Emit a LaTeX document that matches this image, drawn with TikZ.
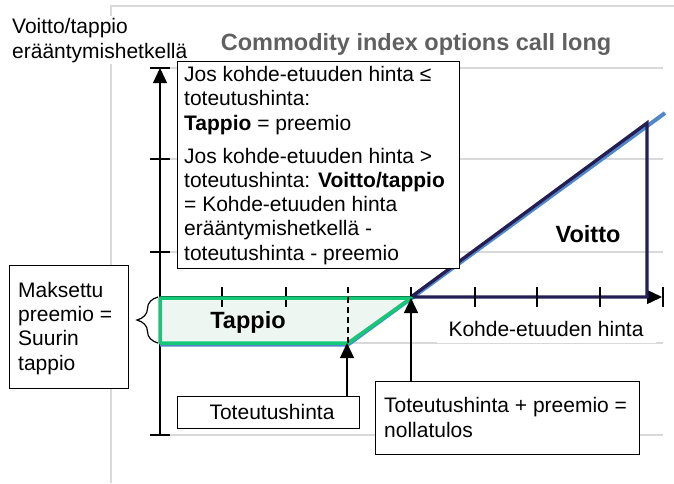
\documentclass[tikz,border=0pt]{standalone}
\usepackage{fontspec}
\setmainfont{Liberation Sans}
\usetikzlibrary{arrows.meta,decorations.pathreplacing,calc}
\definecolor{gridgray}{HTML}{D9D9D9}
\definecolor{navyc}{HTML}{231E55}
\definecolor{paygreen}{HTML}{14C878}
\definecolor{mintc}{HTML}{EEF6F2}
\definecolor{payblue}{HTML}{5087C8}
\definecolor{titlegray}{HTML}{606060}
\begin{document}
\begin{tikzpicture}[x=1pt,y=-1pt,
  body/.style={font=\fontsize{21}{24.2}\selectfont},
  frame/.style={draw=black, line width=1.3pt, fill=white, inner sep=0pt},
  gridl/.style={gridgray, line width=1.5pt},
  axisl/.style={black, line width=1.4pt},
  tri/.style={-{Triangle[width=14pt,length=15pt]}},
  tickl/.style={black, line width=1.6pt},
  biglbl/.style={font=\fontsize{23.5}{27}\selectfont\bfseries},
]
\useasboundingbox (0,0) rectangle (674,483);
% plot frame and grid
\foreach \y in {68,159,252,343,435} \draw[gridl] (160,\y) -- (663,\y);
\draw[gridl] (674,6) -- (111,6) -- (111,483);
% axes
\draw[axisl, tri] (160,435) -- (160,68);
\draw[axisl, tri] (160,297) -- (662,297);
\foreach \y in {68,159,252,435} \draw[tickl] (150,\y) -- (170,\y);
% payoff (blue)
\draw[payblue, line width=4pt] (160,344.5) -- (348,344.5) -- (665,113);
% loss area fill
\fill[mintc] (160,298) -- (411,298) -- (348,343) -- (160,343) -- cycle;
% profit triangle (navy)
\draw[navyc, line width=3.3pt] (411,297) -- (647,123) -- (647,297) -- (411,297);
% x ticks
\foreach \x in {222,286,411,475,537,600,663} \draw[tickl] (\x,287) -- (\x,307);
% loss area outline
\draw[paygreen, line width=3.5pt, line join=round] (160,298) -- (411,298) -- (348,343) -- (160,343) -- cycle;
\draw[black, line width=1.6pt, dash pattern=on 6pt off 4pt] (348,287) -- (348,343);
% brace
\draw[decorate, decoration={brace, amplitude=21pt}, line width=1.2pt] (158,343) -- (158,297);
% coordinates
\coordinate (K) at (347,343);
\coordinate (BE) at (411,298);
% title and axis labels
\node[font=\fontsize{23.5}{28}\selectfont\bfseries, text=titlegray, anchor=base] (title) at (416,50) {Commodity index options call long};
\node[body, align=left, anchor=base west, fill=white, inner sep=2pt] (ylab) at (10,58) {Voitto/tappio\\[0.8pt]erääntymishetkellä};
\node[body, fill=white, inner xsep=12pt, inner ysep=7pt, anchor=base] (xlab) at (546,336) {Kohde-etuuden hinta};
\node[biglbl, anchor=base] (voitto) at (588,242) {Voitto};
\node[biglbl, anchor=base] (tappio) at (248,328) {Tappio};
% condition box
\node[frame, minimum width=282pt, minimum height=207pt, anchor=north west] (condbox) at (177,61) {};
\node[body, align=left, anchor=base west, inner sep=0pt] (condtxt) at (184,260) {Jos kohde-etuuden hinta ≤\\ toteutushinta:\\ \textbf{Tappio} = preemio\\[9pt] Jos kohde-etuuden hinta >\\ toteutushinta: \textbf{Voitto/tappio}\\ = Kohde-etuuden hinta\\ erääntymishetkellä -\\ toteutushinta - preemio};
% premium box
\node[frame, minimum width=119pt, minimum height=123pt, anchor=north west] (prembox) at (9,265) {};
\node[body, align=left, anchor=base west, inner sep=0pt] (premtxt) at (18,370) {Maksettu\\ preemio =\\ Suurin\\ tappio};
% strike box
\node[frame, minimum width=182pt, minimum height=32pt, anchor=north west] (totbox) at (177,396) {};
\node[body, anchor=base, inner sep=0pt] (tottxt) at (272,419) {Toteutushinta};
% break-even box
\node[frame, minimum width=264pt, minimum height=73pt, anchor=north west] (bebox) at (375,381) {};
\node[body, align=left, anchor=base west, inner sep=0pt] (betxt) at (384,437) {Toteutushinta + preemio =\\ nollatulos};
% connectors
\draw[axisl, tri] (totbox.north -| K) -- (K);
\draw[axisl, tri] (bebox.north -| BE) -- (BE);
\end{tikzpicture}
\end{document}
